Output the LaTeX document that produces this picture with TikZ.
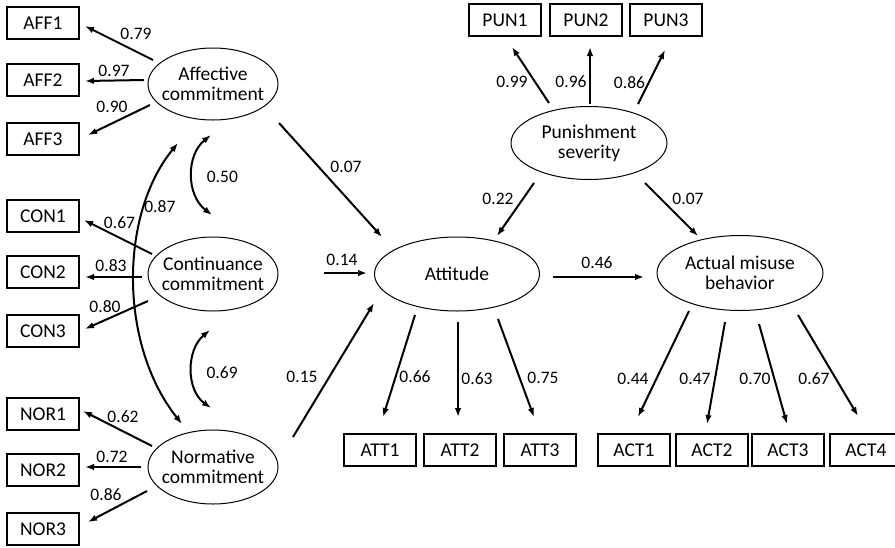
\documentclass[tikz,border=0pt]{standalone}
\usepackage{fontspec}
\setmainfont{Carlito}
\usepackage{tikz}
\usetikzlibrary{arrows.meta,shapes.geometric}

\begin{document}
\begin{tikzpicture}[x=1pt,y=-1pt,font=\fontsize{19.5}{20}\selectfont,
	latent/.style={ellipse,draw,line width=1pt,align=center,inner sep=0pt,inner xsep=-15pt},
	item/.style={rectangle,draw,line width=1.2pt,minimum width=72pt,minimum height=32pt,inner sep=0pt},
	loading/.style={line width=2pt,-{Latex[length=9pt,width=6.5pt]}},
	corr/.style={line width=2pt,{Latex[length=9pt,width=6.5pt]}-{Latex[length=9pt,width=6.5pt]}},
	coef/.style={inner sep=0pt,font=\fontsize{17.5}{20}\selectfont}]
		
		\useasboundingbox (0,0) rectangle (895,547);
		
		% latent variables
		\node[latent,minimum width=130pt,minimum height=72pt] (aff) at (213,84) {Affective\\commitment};
		\node[latent,minimum width=130pt,minimum height=74pt] (con) at (213,274) {Continuance\\commitment};
		\node[latent,minimum width=130pt,minimum height=74pt] (nor) at (213,467) {Normative\\commitment};
		\node[latent,minimum width=165pt,minimum height=74pt] (att) at (457,274) {Attitude};
		\node[latent,minimum width=156pt,minimum height=73pt] (pun) at (589,143) {Punishment\\severity};
		\node[latent,minimum width=166pt,minimum height=75pt] (act) at (740,273) {Actual misuse\\behavior};
		
		% indicators
		\foreach \n/\y in {1/23,2/80,3/139} \node[item] (AFF\n) at (43,\y) {AFF\n};
		\foreach \n/\y in {1/216,2/272,3/331} \node[item] (CON\n) at (43,\y) {CON\n};
		\foreach \n/\y in {1/414,2/470,3/529} \node[item] (NOR\n) at (43,\y) {NOR\n};
		\foreach \n/\x in {1/505,2/586,3/666} \node[item] (PUN\n) at (\x,20) {PUN\n};
		\foreach \n/\x in {1/380,2/460,3/540} \node[item] (ATT\n) at (\x,450) {ATT\n};
		\foreach \n/\x in {1/634,2/712,3/788,4/866} \node[item] (ACT\n) at (\x,450) {ACT\n};
		
		% loadings
		\draw[loading] ([shift={(-60,-24)}]aff.center) -- ([shift={(42,3)}]AFF1.center) node[coef,pos=0.5,shift={(17,-9.5)}] {0.79};
		\draw[loading] ([shift={(-69,-4)}]aff.center) -- ([shift={(42,1)}]AFF2.center) node[coef,pos=0.5,shift={(-0.5,-9.5)}] {0.97};
		\draw[loading] ([shift={(-63,21)}]aff.center) -- ([shift={(45,-4)}]AFF3.center) node[coef,pos=0.5,shift={(-7,-13)}] {0.90};
		
		\draw[loading] ([shift={(-61,-20)}]con.center) -- ([shift={(41,4)}]CON1.center) node[coef,pos=0.5,shift={(1.5,-14.5)}] {0.67};
		\draw[loading] ([shift={(-71,3)}]con.center) -- ([shift={(42,5)}]CON2.center) node[coef,pos=0.5,shift={(-2.5,-11)}] {0.83};
		\draw[loading] ([shift={(-65,27)}]con.center) -- ([shift={(42,-2)}]CON3.center) node[coef,pos=0.5,shift={(-11.5,-8)}] {0.80};
		
		\draw[loading] ([shift={(-61,-21)}]nor.center) -- ([shift={(40,-3)}]NOR1.center) node[coef,pos=0.5,shift={(5.5,-11.5)}] {0.62};
		\draw[loading] ([shift={(-72,0)}]nor.center) -- ([shift={(42,-3)}]NOR2.center) node[coef,pos=0.5,shift={(-1,-10)}] {0.72};
		\draw[loading] ([shift={(-66,24)}]nor.center) -- ([shift={(45,-7)}]NOR3.center) node[coef,pos=0.5,shift={(-11.5,-11.5)}] {0.86};
		
		\draw[loading] ([shift={(-40,-40)}]pun.center) -- ([shift={(7,27)}]PUN1.center) node[coef,pos=0.5,shift={(-18.5,7)}] {0.99};
		\draw[loading] ([shift={(1,-39)}]pun.center) -- ([shift={(4,27)}]PUN2.center) node[coef,pos=0.5,shift={(-19,6.5)}] {0.96};
		\draw[loading] ([shift={(49,-39)}]pun.center) -- ([shift={(-1,30)}]PUN3.center) node[coef,pos=0.5,shift={(-22,6)}] {0.86};
		
		\draw[loading] ([shift={(-42,41)}]att.center) -- ([shift={(3,-33)}]ATT1.center) node[coef,pos=0.5,shift={(16,11)}] {0.66};
		\draw[loading] ([shift={(1,48)}]att.center) -- ([shift={(-2,-33)}]ATT2.center) node[coef,pos=0.5,shift={(19,9.5)}] {0.63};
		\draw[loading] ([shift={(41,45)}]att.center) -- ([shift={(-6,-33)}]ATT3.center) node[coef,pos=0.5,shift={(27,10)}] {0.75};
		
		\draw[loading] ([shift={(-51,38)}]act.center) -- ([shift={(4,-33)}]ACT1.center) node[coef,pos=0.5,shift={(-30.5,15)}] {0.44};
		\draw[loading] ([shift={(-15,49)}]act.center) -- ([shift={(-5,-26)}]ACT2.center) node[coef,pos=0.5,shift={(-21,6)}] {0.47};
		\draw[loading] ([shift={(19,51)}]act.center) -- ([shift={(-1,-26)}]ACT3.center) node[coef,pos=0.5,shift={(-18,5)}] {0.70};
		\draw[loading] ([shift={(58,42)}]act.center) -- ([shift={(-8,-34)}]ACT4.center) node[coef,pos=0.5,shift={(-14,13.5)}] {0.67};
		
		% structural paths
		\draw[loading] ([shift={(66,39)}]aff.center) -- ([shift={(-75,-37)}]att.center) node[coef,pos=0.5,shift={(15.5,-13)}] {0.07};
		\draw[loading] ([shift={(111,-1)}]con.center) -- ([shift={(-90,-1)}]att.center) node[coef,pos=0.5,shift={(-3.5,-13)}] {0.14};
		\draw[loading] ([shift={(80,-30)}]nor.center) -- ([shift={(-83,29)}]att.center) node[coef,pos=0.5,shift={(-31.5,7)}] {0.15};
		\draw[loading] ([shift={(-55,40)}]pun.center) -- ([shift={(40,-38)}]att.center) node[coef,pos=0.5,shift={(-17.5,-10.5)}] {0.22};
		\draw[loading] ([shift={(56,40)}]pun.center) -- ([shift={(-42,-37)}]act.center) node[coef,pos=0.5,shift={(16.5,-10.5)}] {0.07};
		\draw[loading] ([shift={(96,3)}]att.center) -- ([shift={(-96,4)}]act.center) node[coef,pos=0.5,shift={(-1.5,-14)}] {0.46};
		
		% correlations
		\draw[corr] ([shift={(-2,51)}]aff.center) .. controls (186,155) and (186,195) .. ([shift={(-1,-59)}]con.center) node[coef,pos=0.5,shift={(30,2)}] {0.50};
		\draw[corr] ([shift={(-3,56)}]con.center) .. controls (186,350) and (186,390) .. ([shift={(-2,-59)}]nor.center) node[coef,pos=0.5,shift={(30,3)}] {0.69};
		\draw[corr] ([shift={(-35,59)}]aff.center) .. controls (119,215) and (119,345) .. ([shift={(-31,-43)}]nor.center) node[coef,pos=0.25,shift={(15,0)}] {0.87};
		
\end{tikzpicture}
\end{document}
